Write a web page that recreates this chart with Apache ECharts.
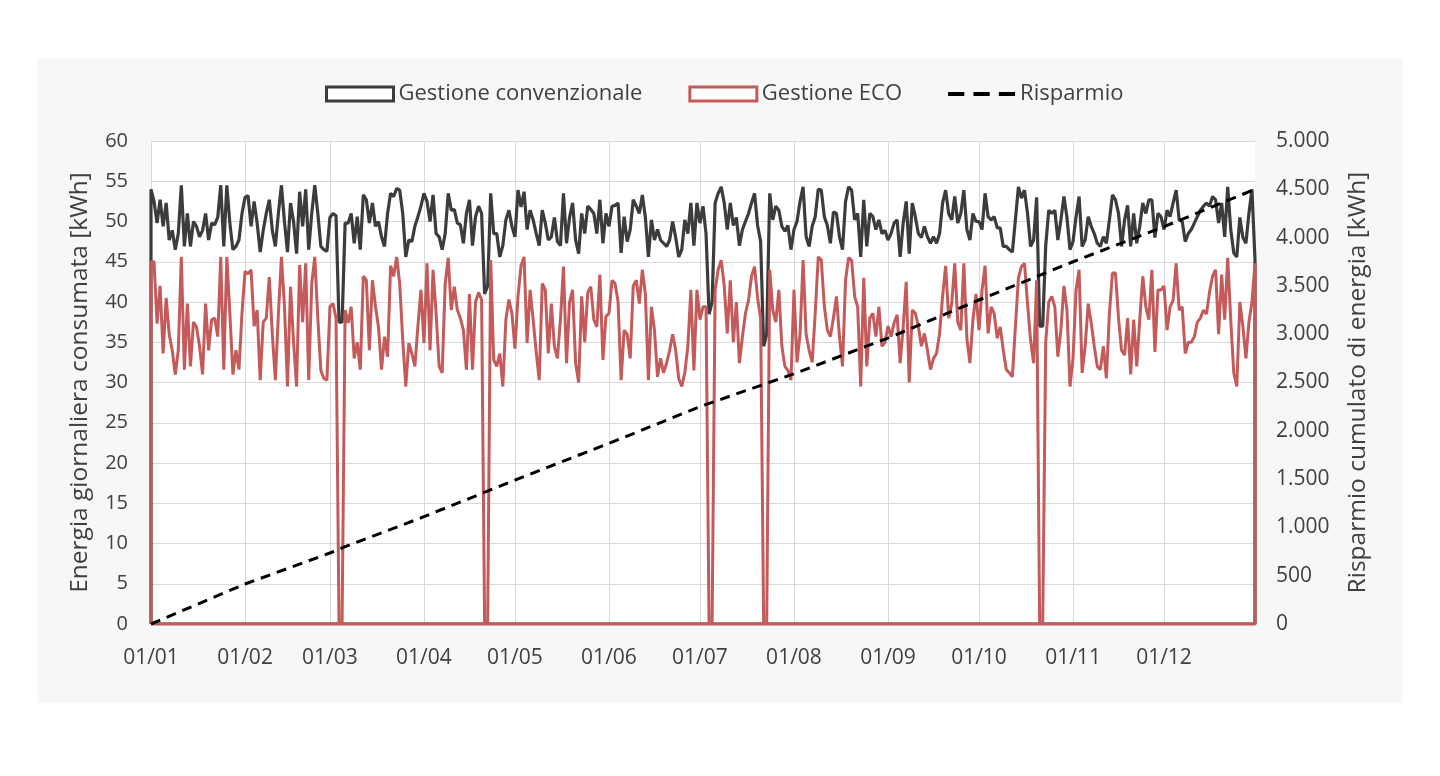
<!DOCTYPE html>
<html><head><meta charset="utf-8">
<script src="https://cdn.jsdelivr.net/npm/echarts@6/dist/echarts.min.js"></script>
<style>html,body{margin:0;padding:0;background:#fff}#c{width:1440px;height:776px}</style>
</head><body><div id="c"></div><script>
const monthLabels = ['01/01','01/02','01/03','01/04','01/05','01/06','01/07','01/08','01/09','01/10','01/11','01/12'];
const monthStartDays = [0,31,59,90,120,151,181,212,243,273,304,334];
const seriesNames = ['Gestione convenzionale','Gestione ECO','Risparmio'];
const convenzionale = [
54,52.5,49.8,52.7,49.4,52.3,47.7,48.9,46.5,48.5,
54.5,46.9,51,46.9,50,49.4,48.1,48.9,51,47.7,
49.8,49.6,50.5,54.5,46.9,54.5,49.8,46.5,46.9,47.7,
51,53,53.2,49.4,52.5,49.8,46.2,48.9,51,52.7,
48.9,46.9,51,54.5,50,46.2,52.3,50,46,53.7,
49.4,54,46.5,51,54.5,51,46.9,46.5,46.3,50.5,
51,50.7,37.5,37.5,49.8,49.8,51,47.3,50.6,46.5,
53.3,52.7,49.8,52.3,49.4,50,48.1,46.9,51,53.5,
53.1,54.1,53.9,51,45.6,47.7,47.5,49.4,50.6,51.9,
53.5,52.5,50,53.3,48.5,48.1,46.5,48.5,53.5,51.4,
51.5,49.8,49.6,47.3,51,52.7,47,50.6,51.9,51,
41,42,53.5,48.5,48.5,45.6,47,50.2,51.4,49.4,
48.1,53.9,51.8,53.7,49,51.4,50.2,48.5,47,51.4,
49.8,47.7,48.1,50.5,47.5,47,53.5,47.3,50.5,52.3,
47.7,46,51,48.5,51.9,51.5,51,48.5,52.7,47.3,
51,49.4,51.9,52,52.3,46.1,50.6,47.5,49,52.7,
51.9,51,53.3,50.5,45.6,50.2,47.7,49,47.7,47.3,
46.9,47.7,50,48,45.6,46.5,50.2,48.5,52.3,47,
52.3,49.8,51.9,48.5,38.5,40,52.3,53.5,54.3,52.3,
49,52.3,49.5,50.5,47,49,50,51,52.3,53.5,
49.5,47.5,34.5,36,53.5,50.2,51.9,51.4,49.4,48.8,
49.5,46.5,49,50,52.5,54.3,48.1,46.9,49.4,50.6,
54,53.9,50.6,49.5,47.3,51.2,51,48.1,46.5,52.5,
54.3,53.9,50.2,51,45.6,52.7,46.9,51,50.6,49,
50.2,48.5,48.9,47.7,48.5,49.8,50.2,45.6,49.8,52.5,
46,52.3,50.6,48.5,48,49.4,48.1,47.3,48.1,47.3,
48.5,52.3,53.9,51,50.2,53.1,49.8,51,53.9,49,
47.7,51,50,50,49,53.5,50.6,50.2,50.6,49.2,
49.2,46.9,46.9,46.5,46.2,50.2,54.3,52.9,53.9,51,
46.9,47.7,53,37,37,47,51.4,51,51.4,47.7,
50.2,53.1,50.5,46.5,47.5,50.6,53.1,46.9,47.7,50.6,
49.4,48.5,47.3,46.9,48.1,47.3,50.2,53.3,52.7,51,
46.9,50.2,52,46.9,51,47.3,49.4,52.3,51,52.7,
52.7,48,51,50.6,49,51.4,50.6,52.3,53.9,50.2,
50,47.5,48.5,49,49.8,50.6,51.4,51.9,52.3,51.9,
53.1,52.7,49.8,52.3,48.1,54.3,49,46.1,45.6,50.5,
48,47.3,51,54,45.2];
const eco = [
45,45,37.3,42,33.6,40.5,36,34,31,34,
45.6,31.6,39.8,32,37.5,36.9,34.5,31,39.8,34,
37.8,38,35.7,45.6,31.6,45.6,38.6,31,34,31.6,
38.6,43.8,43.5,44,37,39,30.3,37.5,38,43.1,
36,30.3,38.5,45.6,39.5,29.5,41.9,35,29.5,44.6,
37.5,44.8,30.3,42.3,45.6,38,31.5,30.5,30.3,39.4,
39.8,38,0,0,39,37.4,39.4,33,35,31.6,
43.2,42.7,34,42.7,39.5,36.9,31.6,35.7,33.2,44.5,
43.2,45.6,42.3,35.3,29.5,34.9,33.6,32,37,41.5,
34.9,44.8,34,44,38.6,32,31.2,42.3,45.5,39,
41.9,39,38,36.5,31.6,41,31.6,40,41.2,40.3,
0,0,45.2,32.8,32,33.6,29.5,37.8,40.3,38.6,
34.2,40.7,44.5,45.6,34.9,41.5,37.8,33.8,30.3,42.3,
41.5,33.6,39.8,34.5,33,37.8,44.4,32.4,40,41.5,
32.4,30,40.7,35,41.2,41.9,37.8,36.9,43.4,32.8,
38.2,38.6,42.7,42.3,40,30.3,36.5,36,33,42,
42.7,39.8,44,41,30.3,39.4,36.5,30.7,33,31.2,
32.4,34,36,34,30.5,29.5,31.2,34.5,41.5,31.5,
41.5,37.8,39.4,39.4,0,0,41.5,44,45.2,42,
36.1,42.7,35,40,32.4,35.7,38.6,40.2,43.2,44.4,
40.5,38,0,0,44,39,37.5,41.5,34.5,32,
31.5,30.3,41.5,32.5,36,45.2,36,34,32.5,38.6,
45.6,45.2,39.5,36.5,35.7,38,40.7,35.7,32,42.7,
45.5,45.2,40.7,39.4,29.5,43,32,38,38.6,35.7,
39.4,34.5,35,37,35.7,37.4,38.4,32.4,36.9,42.5,
30,39,38.6,37,34.5,36.1,34,31.6,33,33.6,
36.1,40.7,44.5,38,39.8,44.8,37.5,36.5,44.8,35.5,
32.4,37.8,41,36.5,41.5,44.5,36.1,39.4,38.6,35.5,
36.9,34,31.6,31.2,30.7,36.9,43,44.4,44.8,39.8,
35.3,32.4,42.7,0,0,35,40,40.7,39.4,33.2,
36.5,42,39,29.5,33,41.5,44,31.2,34.5,39.8,
37.4,34.5,32,31.6,34.5,30.5,38.6,43.6,43.6,38,
34,33.4,38,31,37.8,32,37.8,43.2,39.4,37.8,
44,33.8,41.5,41.5,42,36.5,39.4,40.2,44.8,39,
39.4,33.6,35,35,35.7,37.5,38,39,38.5,41.2,
43.2,44,36,43.4,37.8,45.5,37.8,31.2,29.5,40,
37,33,37.5,40,44.8];
const risparmioDays =   [0, 31, 59, 64, 90, 120, 151, 181, 212, 243, 273, 304, 334, 364];
const risparmioValues = [0,414,735,800,1111,1490,1870,2250,2590,2960,3354,3750,4113,4500];

function closedOutline(values){
  const pts = [[0, 0]];
  values.forEach((v, i) => pts.push([i, v]));
  pts.push([values.length - 1, 0]);
  pts.push([0, 0]);
  return pts;
}
const DARK = '#3c3c3c', RED = '#c55a5a', TXT = '#404040';
const FONT = 'Open Sans';
const chart = echarts.init(document.getElementById('c'), null, {renderer: 'canvas'});
chart.setOption({
  animation: false,
  backgroundColor: '#ffffff',
  textStyle: {fontFamily: FONT, color: TXT},
  graphic: [{type: 'rect', z: -10, silent: true,
    shape: {x: 37, y: 58, width: 1366, height: 645},
    style: {fill: '#f7f7f7'}}],
  legend: {
    left: 320, top: 78, itemWidth: 67, itemHeight: 14, itemGap: 46,
    textStyle: {fontSize: 22, color: TXT, fontFamily: FONT},
    data: [
      {name: seriesNames[0], icon: 'rect', itemStyle: {color: '#ffffff', borderColor: DARK, borderWidth: 3}},
      {name: seriesNames[1], icon: 'rect', itemStyle: {color: '#ffffff', borderColor: RED, borderWidth: 3}},
      {name: seriesNames[2], icon: 'path://M0,0h16v4h-16zM25,0h16v4h-16zM50,0h16v4h-16z',
       itemStyle: {color: '#000000', borderWidth: 0}}
    ]
  },
  grid: {left: 151, right: 185, top: 141, bottom: 152, show: true, backgroundColor: '#ffffff', borderWidth: 0},
  xAxis: {
    type: 'value', min: 0, max: convenzionale.length - 1,
    axisLine: {show: false}, axisTick: {show: false, customValues: monthStartDays},
    splitLine: {show: true, lineStyle: {color: '#d9d9d9', width: 1}},
    axisLabel: {customValues: monthStartDays, fontSize: 21, color: TXT, margin: 24, fontFamily: FONT,
      formatter: v => monthLabels[monthStartDays.indexOf(v)]}
  },
  yAxis: [
    {type: 'value', min: 0, max: 60, interval: 5,
     name: 'Energia giornaliera consumata [kWh]', nameLocation: 'middle', nameGap: 58,
     nameTextStyle: {fontSize: 24.5, color: TXT, fontFamily: FONT},
     axisLine: {show: false}, axisTick: {show: false},
     axisLabel: {fontSize: 20, color: TXT, margin: 23, fontFamily: FONT},
     splitLine: {show: true, lineStyle: {color: '#d9d9d9', width: 1}}},
    {type: 'value', min: 0, max: 5000, interval: 500, position: 'right',
     name: 'Risparmio cumulato di energia [kWh]', nameLocation: 'middle', nameGap: 91,
     nameTextStyle: {fontSize: 24.5, color: TXT, fontFamily: FONT},
     axisLine: {show: false}, axisTick: {show: false}, splitLine: {show: false},
     axisLabel: {fontSize: 21, color: TXT, margin: 21, fontFamily: FONT,
       formatter: v => String(v).replace(/\B(?=(\d{3})+(?!\d))/g, '.')}}
  ],
  series: [
    {name: seriesNames[0], type: 'line', yAxisIndex: 0, symbol: 'none', z: 2,
     lineStyle: {color: DARK, width: 3.2}, itemStyle: {color: DARK},
     data: closedOutline(convenzionale)},
    {name: seriesNames[1], type: 'line', yAxisIndex: 0, symbol: 'none', z: 3,
     lineStyle: {color: RED, width: 3}, itemStyle: {color: RED},
     data: closedOutline(eco)},
    {name: seriesNames[2], type: 'line', yAxisIndex: 1, symbol: 'none', z: 4,
     lineStyle: {color: '#000000', width: 3, type: [10, 7]}, itemStyle: {color: '#000000'},
     data: risparmioDays.map((d, i) => [d, risparmioValues[i]])}
  ]
});
</script></body></html>
